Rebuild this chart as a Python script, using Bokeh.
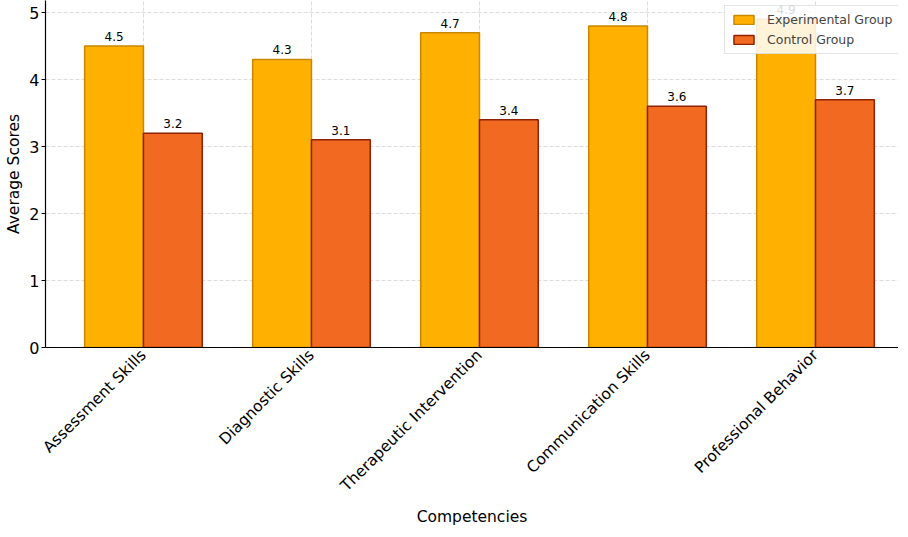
from bokeh.plotting import figure
from bokeh.models import ColumnDataSource, FixedTicker, Range1d, Legend, LegendItem
from bokeh.transform import dodge
from bokeh.core.properties import value
from bokeh.embed import file_html
from bokeh.resources import INLINE

categories = ["Assessment Skills", "Diagnostic Skills", "Therapeutic Intervention",
              "Communication Skills", "Professional Behavior"]
experimental = [4.5, 4.3, 4.7, 4.8, 4.9]
control = [3.2, 3.1, 3.4, 3.6, 3.7]
series_names = ["Experimental Group", "Control Group"]
y_ticks = [0, 1, 2, 3, 4, 5]

idx = list(range(len(categories)))
src = ColumnDataSource(data=dict(
    x=idx, exp=experimental, ctl=control,
    exp_lbl=[f"{v:.1f}" for v in experimental],
    ctl_lbl=[f"{v:.1f}" for v in control],
))

FONT = "DejaVu Sans"
W = 0.35

p = figure(width=898, height=529, output_backend="svg", toolbar_location=None,
           x_range=Range1d(-0.583, 4.494), y_range=Range1d(0, 5.18),
           min_border_left=45, min_border_right=0, min_border_top=0, min_border_bottom=180)
p.outline_line_color = None
p.background_fill_color = "white"

r1 = p.vbar(x=dodge("x", -W / 2, range=p.x_range), top="exp", width=W, source=src,
            fill_color="#FFB000", line_color="#C98700", line_width=1.5)
r2 = p.vbar(x=dodge("x", W / 2, range=p.x_range), top="ctl", width=W, source=src,
            fill_color="#F26A21", line_color="#8E2200", line_width=1.5)

p.text(x=dodge("x", -W / 2, range=p.x_range), y="exp", text="exp_lbl", source=src,
       text_align="center", text_baseline="bottom", y_offset=-5,
       text_font_size="12px", text_font=value(FONT), text_color="black")
p.text(x=dodge("x", W / 2, range=p.x_range), y="ctl", text="ctl_lbl", source=src,
       text_align="center", text_baseline="bottom", y_offset=-5,
       text_font_size="12px", text_font=value(FONT), text_color="black")

p.xaxis.ticker = FixedTicker(ticks=idx)
p.xaxis.major_label_overrides = {i: c for i, c in zip(idx, categories)}
p.xaxis.major_label_orientation = 0.7854
p.yaxis.ticker = FixedTicker(ticks=y_ticks)

for ax in (p.xaxis, p.yaxis):
    ax.major_label_text_font = FONT
    ax.major_label_text_font_size = "15.5px"
    ax.major_label_text_color = "black"
    ax.axis_label_text_font = FONT
    ax.axis_label_text_font_size = "15.5px"
    ax.axis_label_text_font_style = "normal"
    ax.axis_label_text_color = "black"
    ax.axis_line_color = "black"
    ax.axis_line_width = 1.2
    ax.major_tick_line_color = "black"
    ax.major_tick_out = 4
    ax.major_tick_in = 0
    ax.minor_tick_line_color = None

p.xaxis.major_tick_out = 0
p.yaxis.major_label_text_font_size = "16px"
p.xaxis.axis_label = "Competencies"
p.yaxis.axis_label = "Average Scores"
p.yaxis.major_label_standoff = 2
p.yaxis.axis_label_standoff = 3
p.xaxis.major_label_standoff = 5
p.xaxis.axis_label_standoff = 4

for g in (p.xgrid, p.ygrid):
    g.grid_line_color = "#c0c0c0"
    g.grid_line_dash = "4 2"
    g.grid_line_alpha = 0.7
    g.grid_line_width = 0.8

legend = Legend(items=[LegendItem(label=series_names[0], renderers=[r1]),
                       LegendItem(label=series_names[1], renderers=[r2])],
                location=(679, 293))
legend.label_text_font = FONT
legend.label_text_font_size = "12.5px"
legend.glyph_width = 25
legend.glyph_height = 11
legend.label_height = 14
legend.spacing = 5
legend.padding = 6
legend.margin = 0
legend.label_standoff = 11
legend.background_fill_alpha = 0.85
legend.border_line_color = "#cccccc"
legend.border_line_width = 1
p.add_layout(legend)

open("out.html", "w").write(file_html(p, INLINE))
